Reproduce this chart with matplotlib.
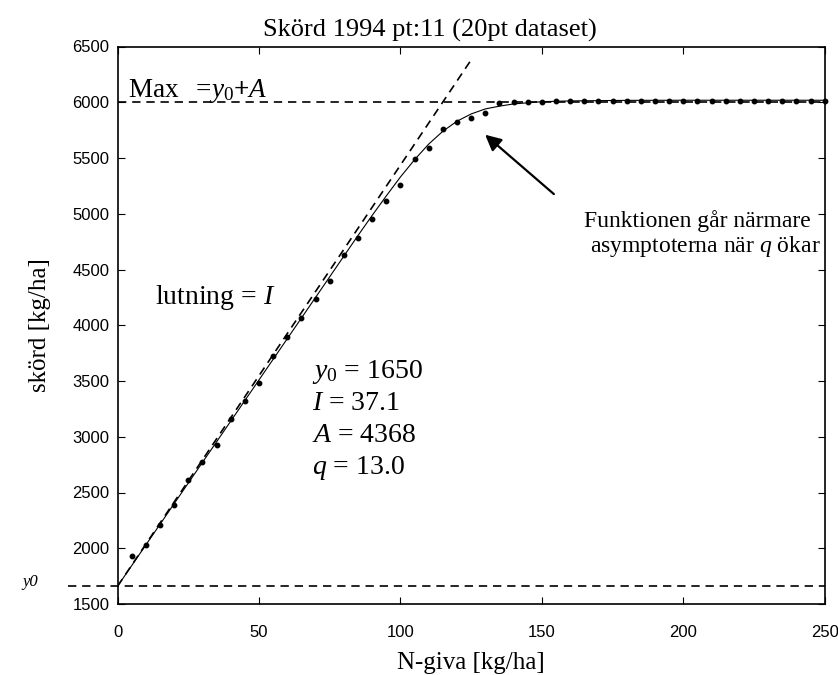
import matplotlib
matplotlib.use('Agg')
import matplotlib.pyplot as plt

plt.rcParams['font.family'] = 'Liberation Serif'
plt.rcParams['mathtext.fontset'] = 'custom'
plt.rcParams['mathtext.rm'] = 'Liberation Serif'
plt.rcParams['mathtext.it'] = 'Liberation Serif:italic'
plt.rcParams['mathtext.bf'] = 'Liberation Serif:bold'

# measured points (20pt dataset, every 5 kg/ha)
dose = [5, 10, 15, 20, 25, 30, 35, 40, 45, 50,
        55, 60, 65, 70, 75, 80, 85, 90, 95, 100,
        105, 110, 115, 120, 125, 130, 135, 140, 145, 150,
        155, 160, 165, 170, 175, 180, 185, 190, 195, 200,
        205, 210, 215, 220, 225, 230, 235, 240, 245, 250]
yield_obs = [1930, 2030, 2210, 2385, 2615, 2775, 2925, 3155, 3325, 3480,
             3720, 3895, 4065, 4235, 4395, 4630, 4785, 4950, 5115, 5255,
             5490, 5590, 5760, 5820, 5860, 5900, 5990, 6000, 6005, 6005,
             6010, 6012, 6015, 6012, 6010, 6015, 6012, 6010, 6015, 6012,
             6010, 6015, 6012, 6010, 6015, 6012, 6010, 6015, 6012, 6015]

# fitted curve
fit_x = [0, 10, 20, 30, 40, 50, 60, 70, 80, 85, 90, 95, 100, 105, 110,
         115, 120, 125, 130, 135, 140, 150, 160, 180, 200, 250]
fit_y = [1660, 2030, 2400, 2770, 3140, 3510, 3880, 4250, 4620, 4805, 4985,
         5160, 5330, 5485, 5625, 5740, 5830, 5895, 5940, 5965, 5985, 6005,
         6012, 6017, 6018, 6018]

# asymptotes
slope_x = [0, 125]
slope_y = [1660, 6380]
y0_level = 1660
max_level = 6000

x_ticks = [0, 50, 100, 150, 200, 250]
y_ticks = [1500, 2000, 2500, 3000, 3500, 4000, 4500, 5000, 5500, 6000, 6500]

fig = plt.figure(figsize=(8.38, 6.75), dpi=100)
ax = fig.add_axes([117.6 / 838, 1 - 604 / 675, 707.1 / 838, 557.5 / 675])
ax.set_xlim(0, 250)
ax.set_ylim(1500, 6500)

# asymptote lines
dash = (0, (5, 3.5))
ax.plot(slope_x, slope_y, color='black', lw=1.2, ls=dash)
ax.plot([0, 250], [max_level, max_level], color='black', lw=1.2, ls=dash)
ax.plot([-17.5, 250], [y0_level, y0_level], color='black', lw=1.2,
        ls=dash, clip_on=False)

# curve and data
ax.plot(fit_x, fit_y, color='black', lw=0.8)
ax.plot(dose, yield_obs, 'o', color='black', ms=3.2, clip_on=False)

ax.set_xticks(x_ticks, labels=[str(v) for v in x_ticks], fontfamily='Liberation Sans', fontsize=12)
ax.set_yticks(y_ticks, labels=[str(v) for v in y_ticks], fontfamily='Liberation Sans', fontsize=12)
ax.tick_params(direction='in', top=True, right=True, length=5, width=0.8)
ax.tick_params(axis='x', pad=15)
ax.tick_params(axis='y', pad=6)
for sp in ax.spines.values():
    sp.set_linewidth(1.2)

# titles / labels
fig.text(430 / 838, 1 - 37 / 675, 'Skörd 1994 pt:11 (20pt dataset)', ha='center',
         va='baseline', fontsize=19)
fig.text(471 / 838, 1 - 669 / 675, 'N-giva [kg/ha]', ha='center', va='baseline', fontsize=18)
fig.text(40 / 838, 1 - 325 / 675, 'skörd [kg/ha]', ha='center', va='center',
         rotation=90, fontsize=18)
fig.text(30 / 838, 1 - 582 / 675, 'y0', ha='center', va='center', fontsize=12,
         style='italic')

# annotations
ax.text(3.7, 6050, r'Max  $=\!y_{\mathit{0}}\mathbf{+}A$', fontsize=19.5, va='baseline')
ax.text(13.2, 4190, r'lutning = $I$', fontsize=20, va='baseline')
ax.text(68.8, 3530, r'$y_{\mathit{0}}$ = 1650', fontsize=20, va='baseline')
ax.text(68.8, 3243, r'$I$ = 37.1', fontsize=20, va='baseline')
ax.text(68.8, 2956, r'$A$ = 4368', fontsize=20, va='baseline')
ax.text(68.8, 2669, r'$q$ = 13.0', fontsize=20, va='baseline')
ax.text(165.0, 4882, 'Funktionen går närmare', fontsize=17, va='baseline')
ax.text(167.1, 4657, r'asymptoterna när $q$ ökar', fontsize=17, va='baseline')

ax.annotate('', xy=(129.2, 5725), xytext=(155, 5160),
            arrowprops=dict(arrowstyle='-|>', color='black', lw=1.6, mutation_scale=24))

fig.savefig('out.png', dpi=100)
